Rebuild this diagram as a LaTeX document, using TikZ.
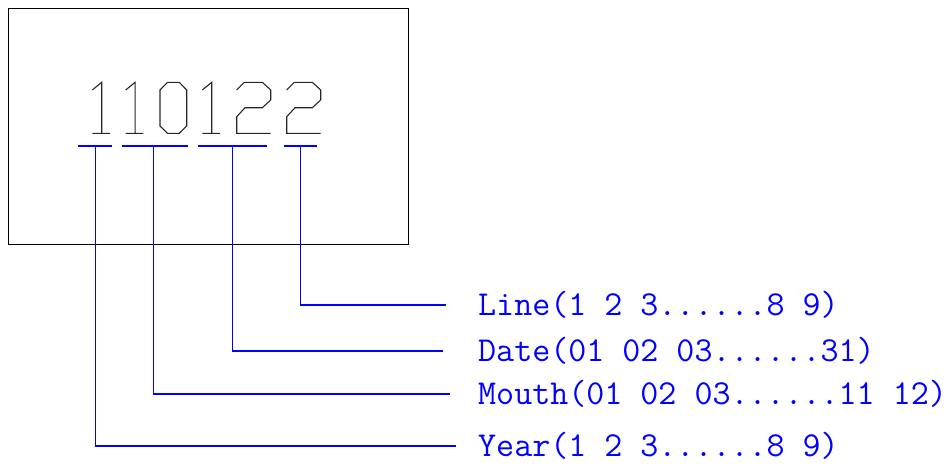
\documentclass[tikz,border=0pt]{standalone}
\usepackage{fontspec}
\usetikzlibrary{positioning}

\begin{document}
\begin{tikzpicture}[x=1pt, y=-1pt,
    frame/.style={draw=black, line width=0.9pt},
    digit/.style={draw=black!85, line width=1.1pt},
    leader/.style={draw=blue, line width=1.2pt},
    field/.style={text=blue, font=\fontsize{35}{40}\selectfont\ttfamily, anchor=west, inner sep=0pt}]

    \useasboundingbox (0,0) rectangle (947,466);

    % Marking plate
    \draw[frame] (8,8) rectangle (408,244);

    % Code 110122
    \foreach \x in {92.3, 125.7, 202.3}
        \draw[digit] (\x,90) -- (\x+9.4,82.3) -- (\x+9.4,133.3) (\x,133.3) -- (\x+17.7,133.3);
    \draw[digit] (167.5,82.3) -- (179.2,82.3) -- (186.7,90) -- (186.7,126) -- (179.2,133.3)
        -- (167.5,133.3) -- (160,126) -- (160,90) -- cycle;
    \foreach \x in {236.7, 286.7}
        \draw[digit] (\x,90) -- (\x+7.6,82.3) -- (\x+25.6,82.3) -- (\x+34,90) -- (\x+34,100)
            -- (\x+25.6,107.7) -- (\x+8.3,107.7) -- (\x,116.7) -- (\x,133.3) -- (\x+34,133.3);

    % Underlines
    \draw[leader] (78.3,146) -- (111.7,146);
    \draw[leader] (122.3,146) -- (188.3,146);
    \draw[leader] (198.3,146) -- (266.7,146);
    \draw[leader] (284,146) -- (316.7,146);
    \coordinate (uyear) at (95.3,146);
    \coordinate (umouth) at (153.3,146);
    \coordinate (udate) at (232.7,146);
    \coordinate (uline) at (300.3,146);

    % Fields
    \node[field] (line) at (478,305) {Line(1 2 3......8 9)};
    \node[field] (date) at (478,351) {Date(01 02 03......31)};
    \node[field] (mouth) at (478,394) {Mouth(01 02 03......11 12)};
    \node[field] (year) at (478,446) {Year(1 2 3......8 9)};

    % Leaders
    \draw[leader, shorten >=32pt] (uline) |- (line.west);
    \draw[leader, shorten >=35pt] (udate) |- (date.west);
    \draw[leader, shorten >=28pt] (umouth) |- (mouth.west);
    \draw[leader, shorten >=22pt] (uyear) |- (year.west);
\end{tikzpicture}
\end{document}
